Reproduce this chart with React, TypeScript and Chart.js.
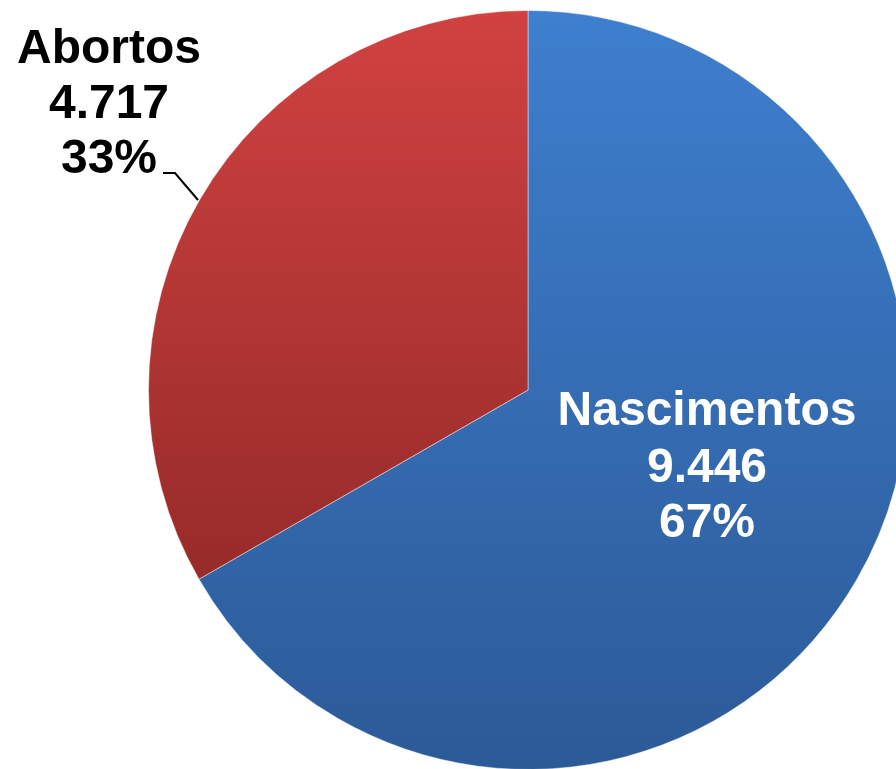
import React, { useEffect, useRef } from "react";
import { Chart, registerables } from "chart.js";

Chart.register(...registerables);

const categories = ["Nascimentos", "Abortos"];
const values = [9446, 4717];
const topColors = ["#3E7FCF", "#D14241"];
const bottomColors = ["#2C5A97", "#962B29"];
const labelColors = ["#FFFFFF", "#000000"];

function fmt(n: number): string {
  return String(n).replace(/\B(?=(\d{3})+(?!\d))/g, ".");
}

export default function App() {
  const ref = useRef<HTMLCanvasElement | null>(null);

  useEffect(() => {
    const total = values.reduce((a, b) => a + b, 0);

    const geom = (area: any) => {
      const cx = (area.left + area.right) / 2;
      const cy = (area.top + area.bottom) / 2;
      const r = Math.min(area.width, area.height) / 2;
      return { cx, cy, r };
    };

    const sliceBounds = (i: number, area: any) => {
      const { cx, cy, r } = geom(area);
      let start = 0;
      for (let k = 0; k < i; k++) start += (values[k] / total) * 2 * Math.PI;
      const end = start + (values[i] / total) * 2 * Math.PI;
      let minY = cy;
      let maxY = cy;
      for (let s = 0; s <= 200; s++) {
        const a = start + ((end - start) * s) / 200;
        const y = cy - Math.cos(a) * r;
        minY = Math.min(minY, y);
        maxY = Math.max(maxY, y);
      }
      return [minY, maxY];
    };

    const labelPlugin = {
      id: "sliceLabels",
      afterDatasetsDraw(chart: any) {
        const ctx = chart.ctx;
        const { cx, cy } = geom(chart.chartArea);
        const pct = values.map((v) => Math.round((v / total) * 100) + "%");
        ctx.save();
        ctx.font = "bold 48px 'Liberation Sans', Arial, sans-serif";
        ctx.textAlign = "center";
        ctx.textBaseline = "alphabetic";
        // Nascimentos (inside)
        ctx.fillStyle = labelColors[0];
        const nx = cx + 179;
        ctx.fillText(categories[0], nx, cy + 35);
        ctx.fillText(fmt(values[0]), nx, cy + 92);
        ctx.fillText(pct[0], nx, cy + 147);
        // Abortos (outside)
        ctx.fillStyle = labelColors[1];
        const ax = cx - 419;
        ctx.fillText(categories[1], ax, cy - 327);
        ctx.fillText(fmt(values[1]), ax, cy - 272);
        ctx.fillText(pct[1], ax, cy - 217);
        // leader line
        ctx.strokeStyle = "#000000";
        ctx.lineWidth = 2;
        ctx.beginPath();
        ctx.moveTo(cx - 365, cy - 217);
        ctx.lineTo(cx - 353, cy - 217);
        ctx.lineTo(cx - 330, cy - 190);
        ctx.stroke();
        ctx.restore();
      },
    };

    const chart = new Chart(ref.current as HTMLCanvasElement, {
      type: "pie",
      data: {
        labels: categories,
        datasets: [
          {
            data: values,
            backgroundColor: (c: any) => {
              const i = c.dataIndex;
              const area = c.chart.chartArea;
              if (!area) return topColors[i];
              const [y0, y1] = sliceBounds(i, area);
              const g = c.chart.ctx.createLinearGradient(0, y0, 0, y1);
              g.addColorStop(0, topColors[i]);
              g.addColorStop(1, bottomColors[i]);
              return g;
            },
            borderColor: "rgba(255,255,255,0.45)",
            borderWidth: 1,
          },
        ],
      },
      options: {
        responsive: false,
        animation: false,
        layout: { padding: { left: 148, top: 10, right: 0, bottom: 0 } },
        plugins: {
          legend: { display: false },
          tooltip: { enabled: false },
        },
      },
      plugins: [labelPlugin],
    } as any);

    return () => chart.destroy();
  }, []);

  return (
    <div
      style={{
        position: "fixed",
        left: 0,
        top: 0,
        width: 896,
        height: 769,
        overflow: "hidden",
        background: "#FFFFFF",
      }}
    >
      <canvas ref={ref} width={908} height={770} style={{ display: "block", width: 908, height: 770 }} />
    </div>
  );
}
